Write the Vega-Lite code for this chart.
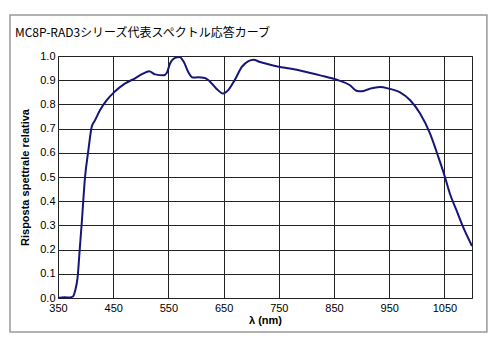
{
  "$schema": "https://vega.github.io/schema/vega-lite/v6.json",
  "width": 414,
  "height": 242,
  "autosize": {"type": "none"},
  "padding": {"left": 58, "top": 56, "right": 28, "bottom": 45},
  "background": "white",
  "data": {"values": [{}]},
  "config": {
    "view": {"stroke": "#222", "strokeWidth": 1},
    "axis": {
      "labelFont": "Liberation Sans",
      "titleFont": "Liberation Sans",
      "labelFontSize": 11,
      "titleFontSize": 11,
      "labelColor": "#000",
      "titleColor": "#000",
      "grid": true,
      "gridColor": "#222",
      "gridOpacity": 1,
      "gridWidth": 1,
      "ticks": false,
      "domain": false,
      "labelOverlap": false,
      "labelFlush": false
    }
  },
  "datasets": {
    "curve": [
      {"nm": 350, "r": 0.0}, {"nm": 362, "r": 0.003}, {"nm": 372, "r": 0.002}, {"nm": 377, "r": 0.006},
      {"nm": 381, "r": 0.03}, {"nm": 385.6, "r": 0.087}, {"nm": 389, "r": 0.19}, {"nm": 393, "r": 0.31},
      {"nm": 399, "r": 0.5}, {"nm": 405, "r": 0.61}, {"nm": 411, "r": 0.707}, {"nm": 417, "r": 0.734},
      {"nm": 426, "r": 0.776}, {"nm": 438, "r": 0.817}, {"nm": 452, "r": 0.851}, {"nm": 471, "r": 0.886},
      {"nm": 489, "r": 0.907}, {"nm": 504, "r": 0.927}, {"nm": 515, "r": 0.937}, {"nm": 526, "r": 0.924},
      {"nm": 541, "r": 0.92}, {"nm": 547, "r": 0.93}, {"nm": 553, "r": 0.969}, {"nm": 562, "r": 0.992},
      {"nm": 570, "r": 0.996}, {"nm": 578, "r": 0.975}, {"nm": 586, "r": 0.934}, {"nm": 594, "r": 0.911},
      {"nm": 604, "r": 0.912}, {"nm": 616, "r": 0.909}, {"nm": 625, "r": 0.895}, {"nm": 637, "r": 0.865},
      {"nm": 649, "r": 0.845}, {"nm": 658, "r": 0.858}, {"nm": 670, "r": 0.9}, {"nm": 683, "r": 0.955},
      {"nm": 695, "r": 0.979}, {"nm": 704, "r": 0.985}, {"nm": 716, "r": 0.975}, {"nm": 731, "r": 0.966},
      {"nm": 750, "r": 0.956}, {"nm": 770, "r": 0.948}, {"nm": 794, "r": 0.937}, {"nm": 825, "r": 0.92},
      {"nm": 855, "r": 0.902}, {"nm": 879, "r": 0.879}, {"nm": 892, "r": 0.855}, {"nm": 900, "r": 0.854},
      {"nm": 915, "r": 0.865}, {"nm": 933, "r": 0.872}, {"nm": 950, "r": 0.865}, {"nm": 969, "r": 0.851},
      {"nm": 988, "r": 0.817}, {"nm": 1006, "r": 0.762}, {"nm": 1024, "r": 0.679}, {"nm": 1039, "r": 0.583},
      {"nm": 1051, "r": 0.5}, {"nm": 1060, "r": 0.431}, {"nm": 1072, "r": 0.362}, {"nm": 1084, "r": 0.293},
      {"nm": 1100, "r": 0.215}
    ]
  },
  "layer": [
    {
      "data": {"name": "curve"},
      "mark": {"type": "line", "color": "#16167a", "strokeWidth": 2, "interpolate": "monotone"},
      "encoding": {
        "x": {
          "field": "nm", "type": "quantitative",
          "scale": {"domain": [350, 1100], "nice": false, "zero": false},
          "axis": {"values": [350, 450, 550, 650, 750, 850, 950, 1050], "format": "d", "title": "λ (nm)", "titleFontWeight": "bold", "labelPadding": 4, "titlePadding": 1}
        },
        "y": {
          "field": "r", "type": "quantitative",
          "scale": {"domain": [0, 1], "nice": false},
          "axis": {"values": [0, 0.1, 0.2, 0.3, 0.4, 0.5, 0.6, 0.7, 0.8, 0.9, 1.0], "tickCount": 11, "format": ".1f", "title": "Risposta spettrale relativa", "titleFontWeight": "bold", "labelPadding": 3, "titlePadding": 9}
        }
      }
    },
    {
      "mark": {"type": "rect", "fill": "white", "fillOpacity": 0, "stroke": "#999999", "strokeWidth": 1.5, "clip": false},
      "encoding": {
        "x": {"datum": 263, "type": "quantitative", "axis": {"values": [350, 450, 550, 650, 750, 850, 950, 1050], "format": "d", "title": "λ (nm)", "titleFontWeight": "bold", "labelPadding": 4, "titlePadding": 1}},
        "x2": {"datum": 1127},
        "y": {"datum": 1.169, "type": "quantitative", "axis": {"values": [0, 0.1, 0.2, 0.3, 0.4, 0.5, 0.6, 0.7, 0.8, 0.9, 1.0], "tickCount": 11, "format": ".1f", "title": "Risposta spettrale relativa", "titleFontWeight": "bold", "labelPadding": 3, "titlePadding": 9}},
        "y2": {"datum": -0.14}
      }
    },
    {
      "mark": {"type": "text", "text": "MC8P-RAD3シリーズ代表スペクトル応答カーブ", "align": "left", "baseline": "middle", "font": "Noto Sans CJK JP", "fontSize": 12, "fontWeight": "normal", "color": "#000", "clip": false},
      "encoding": {
        "x": {"datum": 272, "type": "quantitative", "axis": {"values": [350, 450, 550, 650, 750, 850, 950, 1050], "format": "d", "title": "λ (nm)", "titleFontWeight": "bold", "labelPadding": 4, "titlePadding": 1}},
        "y": {"datum": 1.095, "type": "quantitative", "axis": {"values": [0, 0.1, 0.2, 0.3, 0.4, 0.5, 0.6, 0.7, 0.8, 0.9, 1.0], "tickCount": 11, "format": ".1f", "title": "Risposta spettrale relativa", "titleFontWeight": "bold", "labelPadding": 3, "titlePadding": 9}}
      }
    }
  ]
}
